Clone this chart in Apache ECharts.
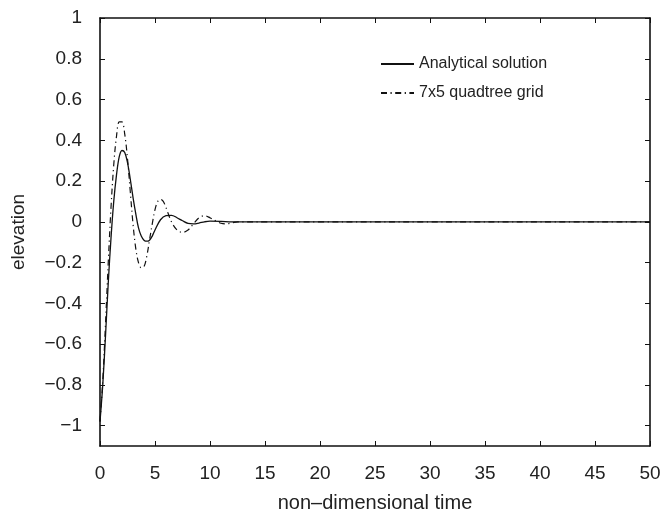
<!DOCTYPE html>
<html><head><meta charset="utf-8">
<script src="https://cdn.jsdelivr.net/npm/echarts@6/dist/echarts.min.js"></script>
<style>html,body{margin:0;padding:0;background:#fff}#c{width:664px;height:518px}</style>
</head><body><div id="c"></div>
<script>
const seriesNames = ['Analytical solution', '7x5 quadtree grid'];
const analyticalT = [0,0.25,0.5,0.75,1,1.25,1.5,1.75,2,2.25,2.5,2.75,3,3.25,3.5,3.75,4,4.25,4.5,4.75,5,5.5,6,6.5,7,7.5,8,8.5,9,9.5,10,11,12,15,20,30,40,50];
const analyticalV = [-0.98,-0.80,-0.56,-0.30,-0.08,0.10,0.23,0.32,0.35,0.34,0.29,0.21,0.12,0.04,-0.03,-0.07,-0.09,-0.095,-0.09,-0.07,-0.04,0.01,0.03,0.032,0.02,0.005,-0.008,-0.01,-0.006,0,0.003,0.002,0,0,0,0,0,0];
const gridT = [0,0.25,0.5,0.75,1,1.25,1.5,1.75,2,2.25,2.5,2.75,3,3.25,3.5,3.75,4,4.25,4.5,4.75,5,5.25,5.5,5.75,6,6.5,7,7.5,8,8.5,9,9.5,10,10.5,11,11.5,12,12.5,13,15,20,30,40,50];
const gridV = [-0.98,-0.78,-0.50,-0.20,0.07,0.28,0.42,0.49,0.49,0.43,0.31,0.15,-0.01,-0.13,-0.20,-0.225,-0.22,-0.17,-0.09,-0.01,0.06,0.10,0.11,0.10,0.07,0,-0.04,-0.052,-0.04,-0.01,0.02,0.03,0.02,0.005,-0.007,-0.01,-0.005,0,0,0,0,0,0,0];
const xTicks = [0,5,10,15,20,25,30,35,40,45,50];
const yTicks = [-1,-0.8,-0.6,-0.4,-0.2,0,0.2,0.4,0.6,0.8,1];
const xTitle = 'non\u2013dimensional time';
const yTitle = 'elevation';

const font = 'Liberation Sans, Arial, sans-serif';
const fmt = v => { const r = Math.round(v*10)/10; return r < 0 ? '\u2212' + String(-r) : String(r); };
const zip = (a,b) => a.map((t,i)=>[t,b[i]]);
const chart = echarts.init(document.getElementById('c'), null, {renderer:'canvas'});
const axisLine = {show:true, onZero:false, lineStyle:{color:'#111', width:1.6}};
const tickStyle = {color:'#111', width:1};
chart.setOption({
  animation:false,
  backgroundColor:'#fff',
  grid:{left:100, right:14, top:18, bottom:66, containLabel:false},
  legend:{
    orient:'vertical', left:375, top:50, itemWidth:33, itemHeight:14, itemGap:11,
    itemStyle:{opacity:0},
    textStyle:{fontFamily:font, fontSize:16, lineHeight:18, color:'#222'},
    data:seriesNames
  },
  xAxis:[{
    type:'value', min:0, max:50, position:'bottom',
    name:xTitle, nameLocation:'middle', nameGap:47,
    nameTextStyle:{fontFamily:font, fontSize:20, color:'#222'},
    axisLine:axisLine,
    axisTick:{show:true, inside:true, length:5, customValues:xTicks, lineStyle:tickStyle},
    axisLabel:{customValues:xTicks, margin:18, fontFamily:font, fontSize:19, color:'#222', formatter:fmt},
    splitLine:{show:false}
  },{
    type:'value', min:0, max:50, position:'top',
    axisLine:axisLine,
    axisTick:{show:true, inside:true, length:5, customValues:xTicks, lineStyle:tickStyle},
    axisLabel:{show:false}, splitLine:{show:false}
  }],
  yAxis:[{
    type:'value', min:-1.1, max:1, position:'left',
    name:yTitle, nameLocation:'middle', nameGap:72, nameRotate:90,
    nameTextStyle:{fontFamily:font, fontSize:19, color:'#222'},
    axisLine:axisLine,
    axisTick:{show:true, inside:true, length:5, customValues:yTicks, lineStyle:tickStyle},
    axisLabel:{customValues:yTicks, margin:18, fontFamily:font, fontSize:19, color:'#222', formatter:fmt},
    splitLine:{show:false}
  },{
    type:'value', min:-1.1, max:1, position:'right',
    axisLine:axisLine,
    axisTick:{show:true, inside:true, length:5, customValues:yTicks, lineStyle:tickStyle},
    axisLabel:{show:false}, splitLine:{show:false}
  }],
  series:[{
    name:seriesNames[0], type:'line', data:zip(analyticalT, analyticalV),
    showSymbol:false, symbol:'none', smooth:0.35,
    lineStyle:{color:'#111', width:1.3, type:'solid'}, itemStyle:{color:'#111'}
  },{
    name:seriesNames[1], type:'line', data:zip(gridT, gridV),
    showSymbol:false, symbol:'none', smooth:0.35,
    lineStyle:{color:'#111', width:1.2, type:[6,3.5,1.2,3.5]}, itemStyle:{color:'#111'}
  }]
});
</script></body></html>
